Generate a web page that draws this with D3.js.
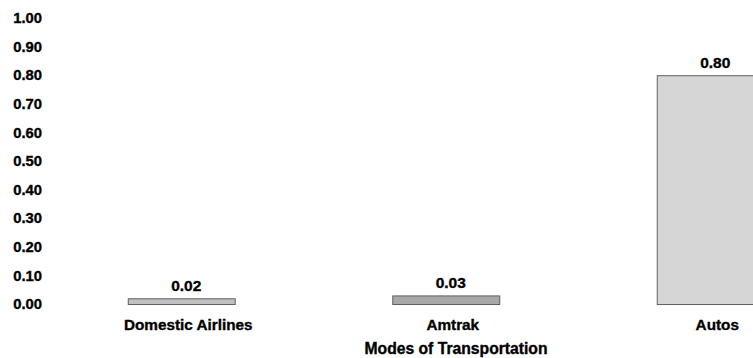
<!DOCTYPE html>
<html>
<head>
<meta charset="utf-8">
<script src="https://cdn.jsdelivr.net/npm/d3@7"></script>
<style>
  body { margin: 0; background: #fff; }
  svg { display: block; }
  text { font-family: "Liberation Sans", Arial, sans-serif; font-weight: bold; fill: #000; stroke: #000; stroke-width: 0.35px; }
</style>
</head>
<body>
<svg id="chart" width="753" height="358"></svg>
<script>
// data
const categories = ['Domestic Airlines', 'Amtrak', 'Autos']
const values = [0.02, 0.03, 0.80]
const barColors = ['#c0c0c0', '#a8a8a8', '#d6d6d6']
const yTicks = [0, 0.1, 0.2, 0.3, 0.4, 0.5, 0.6, 0.7, 0.8, 0.9, 1.0]
const xTitle = 'Modes of Transportation'

const svg = d3.select('#chart')

const pad = 0.5955
const x = d3.scaleBand()
  .domain(categories)
  .range([49, 842.5])
  .paddingInner(pad)
  .paddingOuter(pad / 2)

const y = d3.scaleLinear()
  .domain([0, 1])
  .range([304, 18])

// y axis labels, no lines
const yAxis = d3.axisLeft(y)
  .tickValues(yTicks)
  .tickFormat(d3.format('.2f'))
  .tickSize(0)
  .tickPadding(0)

const gy = svg.append('g')
  .attr('transform', 'translate(42,0)')
  .call(yAxis)
gy.select('.domain').remove()
gy.selectAll('text')
  .attr('font-size', 14.8)
  .attr('font-family', '"Liberation Sans", Arial, sans-serif')
  .attr('font-weight', 'bold')
  .attr('fill', '#000')

// bars
svg.selectAll('rect.bar')
  .data(values)
  .enter()
  .append('rect')
  .attr('class', 'bar')
  .attr('x', (d, i) => x(categories[i]) + 0.5)
  .attr('y', d => y(d) + 0.5)
  .attr('width', x.bandwidth())
  .attr('height', d => y(0) - y(d))
  .attr('fill', (d, i) => barColors[i])
  .attr('stroke', '#606060')
  .attr('stroke-width', 1)

// value labels
svg.selectAll('text.val')
  .data(values)
  .enter()
  .append('text')
  .attr('class', 'val')
  .attr('x', (d, i) => x(categories[i]) + x.bandwidth() / 2 + 5)
  .attr('y', d => y(d) - 7)
  .attr('text-anchor', 'middle')
  .attr('font-size', 15.5)
  .text(d => d3.format('.2f')(d))

// category labels
svg.selectAll('text.cat')
  .data(categories)
  .enter()
  .append('text')
  .attr('class', 'cat')
  .attr('x', d => x(d) + x.bandwidth() / 2 + 7)
  .attr('y', 330)
  .attr('text-anchor', 'middle')
  .attr('font-size', 15.3)
  .text(d => d)

// axis title
svg.append('text')
  .attr('x', 456)
  .attr('y', 354)
  .attr('text-anchor', 'middle')
  .attr('font-size', 15.7)
  .text(xTitle)
</script>
</body>
</html>
